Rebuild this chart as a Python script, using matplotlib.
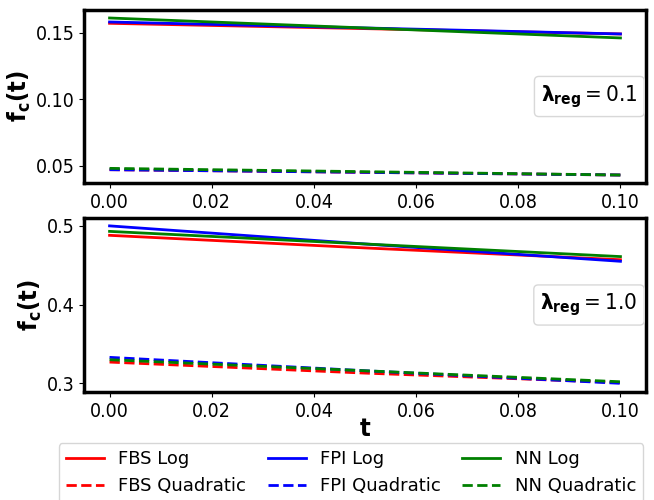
import numpy as np
import matplotlib
matplotlib.use("Agg")
import matplotlib.pyplot as plt

t = [0.0, 0.05, 0.1]

# lambda_reg = 0.1
fbs_log_1 = [0.157, 0.153, 0.149]
fpi_log_1 = [0.158, 0.1535, 0.149]
nn_log_1 = [0.161, 0.1535, 0.146]
fbs_quad_1 = [0.047, 0.045, 0.043]
fpi_quad_1 = [0.047, 0.045, 0.043]
nn_quad_1 = [0.048, 0.0455, 0.043]

# lambda_reg = 1.0
fbs_log_2 = [0.488, 0.472, 0.457]
fpi_log_2 = [0.500, 0.477, 0.455]
nn_log_2 = [0.493, 0.477, 0.461]
fbs_quad_2 = [0.327, 0.313, 0.301]
fpi_quad_2 = [0.333, 0.316, 0.300]
nn_quad_2 = [0.330, 0.316, 0.302]

lams = ["0.1", "1.0"]

plt.rcParams["font.stretch"] = "condensed"
plt.rcParams["mathtext.fontset"] = "dejavusans"

fig = plt.figure(figsize=(6.54, 5.0), dpi=100)
ax1 = fig.add_axes([84/654, 1-183/500, 562/654, 173/500])
ax2 = fig.add_axes([84/654, 1-392/500, 562/654, 174/500])

data = [
    (fbs_log_1, fpi_log_1, nn_log_1, fbs_quad_1, fpi_quad_1, nn_quad_1),
    (fbs_log_2, fpi_log_2, nn_log_2, fbs_quad_2, fpi_quad_2, nn_quad_2),
]

for ax, d, lam in zip([ax1, ax2], data, lams):
    ax.plot(t, d[0], color="red", lw=2, label="FBS Log")
    ax.plot(t, d[1], color="blue", lw=2, label="FPI Log")
    ax.plot(t, d[2], color="green", lw=2, label="NN Log")
    ax.plot(t, d[3], color="red", lw=2, ls="--", label="FBS Quadratic")
    ax.plot(t, d[4], color="blue", lw=2, ls="--", label="FPI Quadratic")
    ax.plot(t, d[5], color="green", lw=2, ls="--", label="NN Quadratic")
    for s in ax.spines.values():
        s.set_linewidth(2.5)
    ax.tick_params(labelsize=14)
    ax.set_ylabel(r"$\mathbf{f_c(t)}$", fontsize=18, labelpad=2)
    ax.text(0.985, 0.5, r"$\mathbf{\lambda_{reg}} = $" + lam, transform=ax.transAxes,
            ha="right", va="center", fontsize=16,
            bbox=dict(boxstyle="round,pad=0.3,rounding_size=0.2", fc="white", ec="#d8d8d8"))

ax1.set_xticks([0.0, 0.02, 0.04, 0.06, 0.08, 0.10])
ax2.set_xticks([0.0, 0.02, 0.04, 0.06, 0.08, 0.10])
ax1.set_ylim(0.037, 0.167)
ax1.set_yticks([0.05, 0.10, 0.15])
ax2.set_ylim(0.289, 0.51)
ax2.set_yticks([0.3, 0.4, 0.5])
ax2.set_xlabel(r"$\mathbf{t}$", fontsize=18, labelpad=-3)

h, l = ax2.get_legend_handles_labels()
order = [0, 3, 1, 4, 2, 5]
fig.legend([h[i] for i in order], [l[i] for i in order], ncol=3,
           prop={"size": 13, "stretch": "normal"},
           loc="upper center", bbox_to_anchor=(351/654, 1-443/500), borderaxespad=0,
           columnspacing=1.2, handlelength=2.1)

fig.savefig("out.png", dpi=100)
